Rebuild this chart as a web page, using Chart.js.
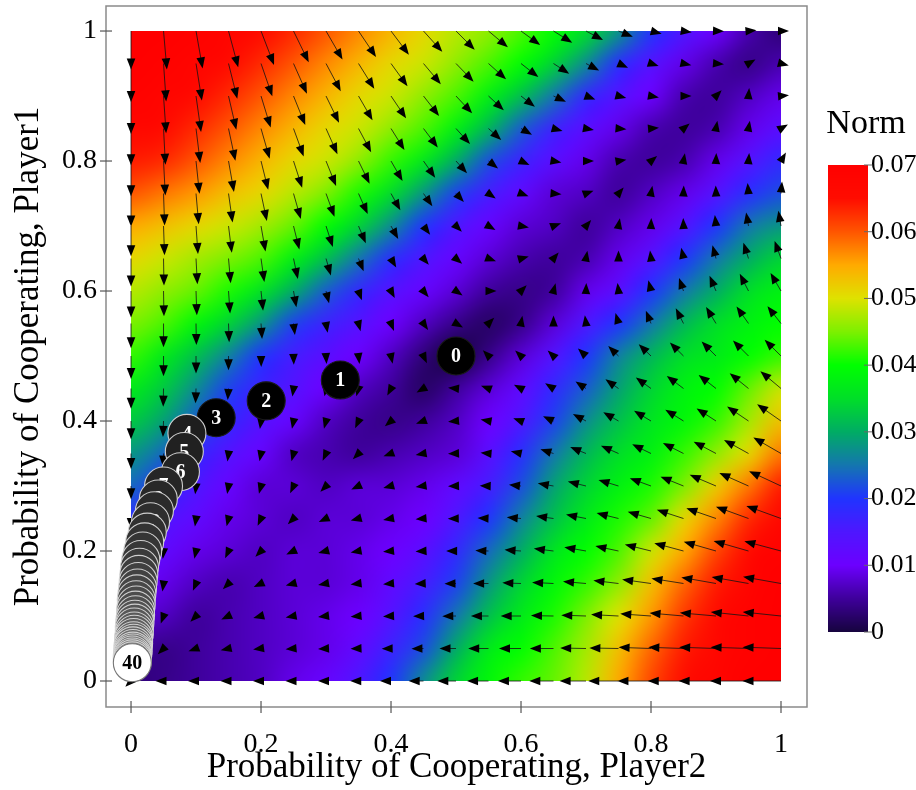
<!DOCTYPE html>
<html><head><meta charset="utf-8">
<script src="https://cdn.jsdelivr.net/npm/chart.js@4.4.1/dist/chart.umd.min.js"></script>
<style>html,body{margin:0;padding:0;background:#fff;overflow:hidden}canvas{display:block}</style>
</head><body>
<canvas id="c" width="916" height="790"></canvas>
<script>
// ---------- DATA ----------
const gridX = [0,0.05,0.1,0.15,0.2,0.25,0.3,0.35,0.4,0.45,0.5,0.55,0.6,0.65,0.7,0.75,0.8,0.85,0.9,0.95,1];
const gridY = [1,0.95,0.9,0.85,0.8,0.75,0.7,0.65,0.6,0.55,0.5,0.45,0.4,0.35,0.3,0.25,0.2,0.15,0.1,0.05,0]; // rows, top to bottom

// Norm of the field (x 1000), one row per gridY value, columns follow gridX
const normMilli = [
 [70,70,69,68,66,63,60,57,54,51,48,46,43,40,35,28,20,15,10,6,3],
 [70,69,68,66,63,60,57,54,51,49,46,43,40,34,27,19,14,9,6,4,6],
 [69,68,66,63,60,57,54,51,49,46,43,38,32,25,18,14,10,6,5,7,9],
 [67,66,63,60,57,54,51,49,46,43,38,31,23,17,13,9,6,5,6,9,13],
 [64,63,60,57,54,51,49,46,42,37,30,22,17,13,9,6,5,6,9,14,18],
 [60,58,56,53,51,48,45,41,35,28,21,16,12,8,7,5,7,9,14,19,22],
 [55,53,51,49,47,44,40,34,27,20,15,11,8,7,5,7,9,14,20,25,28],
 [51,49,47,45,43,38,32,25,19,15,11,8,6,5,6,9,14,20,25,30,34],
 [48,46,44,41,36,30,23,18,14,11,8,5,4,5,9,13,20,25,30,35,38],
 [45,43,39,34,28,21,17,14,10,7,4,2,4,8,15,20,25,31,35,38,40],
 [42,37,32,26,20,16,13,10,7,3,0,4,8,14,20,26,31,35,37,40,42],
 [37,33,27,21,17,14,10,7,5,2,5,8,12,18,23,29,34,38,40,44,49],
 [33,29,23,18,14,11,7,5,4,5,7,10,15,21,27,32,36,39,42,47,53],
 [28,24,18,14,11,7,6,5,6,7,8,13,19,25,31,35,38,42,46,51,58],
 [24,19,15,11,8,8,7,8,8,9,12,16,22,29,34,38,41,45,52,58,64],
 [19,15,12,9,8,7,8,8,9,10,15,20,26,32,37,41,44,51,57,63,67],
 [14,12,9,8,7,8,8,9,10,13,18,24,30,36,40,43,49,55,61,66,69],
 [11,9,7,6,7,8,8,9,12,16,21,28,34,39,42,46,53,59,64,68,70],
 [8,7,5,6,7,8,9,10,14,19,25,32,37,41,45,50,56,62,66,69,70],
 [5,4,5,6,7,8,9,12,17,22,30,37,40,43,47,53,59,64,67,69,70],
 [3,4,5,6,7,9,11,15,20,27,34,39,42,44,48,55,61,65,68,70,70]
];

// Arrow direction in degrees (0 = right, 90 = up), same layout as normMilli
const arrowAngleDeg = [
 [-90,-85,-80,-75,-69,-64,-60,-56,-53,-48,-45,-40,-36,-32,-28,-22,-15,-8,-2,5,0],
 [-90,-86,-81,-76,-71,-66,-62,-58,-54,-50,-46,-42,-38,-33,-28,-24,-18,-12,-5,30,-15],
 [-90,-86,-82,-77,-73,-68,-64,-60,-56,-52,-47,-43,-38,-25,-20,-15,-10,0,45,85,5],
 [-90,-87,-83,-78,-74,-70,-66,-62,-58,-53,-48,-42,-30,-15,-10,-5,5,40,80,80,30],
 [-90,-87,-84,-80,-76,-72,-68,-64,-60,-55,-48,-38,-25,-10,0,10,40,80,88,85,60],
 [-90,-88,-85,-82,-78,-74,-70,-66,-61,-55,-47,-35,-20,-5,20,50,80,88,92,95,85],
 [-90,-88,-86,-83,-80,-76,-72,-67,-61,-53,-45,-30,-10,20,50,80,88,92,96,100,100],
 [-90,-89,-87,-85,-82,-78,-74,-68,-60,-50,-40,-20,15,50,80,90,97,102,105,108,110],
 [-90,-89,-88,-86,-84,-80,-76,-70,-62,-50,-35,0,45,75,88,97,104,109,113,117,120],
 [-90,-90,-89,-88,-86,-83,-80,-75,-68,-55,-30,45,80,90,98,106,112,117,121,125,128],
 [-90,-90,-90,-90,-89,-88,-86,-83,-78,-65,0,135,137,137,137,136,136,135,135,135,135],
 [-90,-91,-92,-94,-96,-98,-101,-106,-118,-150,175,160,152,148,146,145,144,143,142,141,140],
 [-90,-92,-94,-96,-98,-101,-105,-115,-140,-160,-175,170,160,155,152,150,149,148,147,146,145],
 [-90,-92,-95,-98,-101,-105,-115,-135,-160,-170,-178,175,168,162,158,156,154,153,152,151,150],
 [-90,-93,-96,-100,-105,-115,-135,-155,-165,-172,-178,178,174,170,166,163,160,158,157,156,155],
 [-90,-94,-98,-104,-115,-135,-155,-165,-170,-175,-179,178,175,172,169,166,164,162,161,160,160],
 [-90,-95,-102,-115,-135,-155,-165,-170,-174,-177,180,178,176,173,170,168,166,165,164,164,165],
 [-90,-98,-113,-135,-155,-165,-170,-173,-175,-177,-179,180,178,177,175,173,172,171,170,170,170],
 [-90,-110,-135,-155,-165,-170,-173,-175,-177,-178,-179,180,180,179,178,177,176,175,175,174,174],
 [-90,-135,-160,-168,-172,-175,-177,-178,-179,-179,180,180,180,180,179,179,178,178,178,178,178],
 [-135,180,180,180,180,180,180,180,180,180,180,180,180,180,180,180,180,180,180,180,180]
];

// Trajectory (iterations 0..40)
const trajLabels = ['0','1','2','3','4','5','6','7','8','9','10','11','12','13','14','15','16','17','18','19','20','21','22','23','24','25','26','27','28','29','30','31','32','33','34','35','36','37','38','39','40'];
const trajX = [0.500,0.322,0.208,0.131,0.086,0.082,0.076,0.050,0.042,0.036,0.030,0.025,0.021,0.018,0.015,0.013,0.012,0.011,0.010,0.009,0.008,0.008,0.007,0.007,0.006,0.006,0.005,0.005,0.005,0.004,0.004,0.004,0.003,0.003,0.003,0.003,0.002,0.002,0.002,0.002,0.002];
const trajY = [0.500,0.463,0.431,0.405,0.381,0.353,0.322,0.300,0.280,0.262,0.245,0.229,0.214,0.200,0.187,0.175,0.164,0.153,0.143,0.134,0.125,0.117,0.109,0.102,0.095,0.089,0.083,0.077,0.072,0.067,0.062,0.058,0.054,0.050,0.046,0.043,0.040,0.037,0.034,0.031,0.028];

const axisTicks = [0,0.2,0.4,0.6,0.8,1];
const axisTickLabels = ['0','0.2','0.4','0.6','0.8','1'];
const normTicks = [0,0.01,0.02,0.03,0.04,0.05,0.06,0.07];
const normTickLabels = ['0','0.01','0.02','0.03','0.04','0.05','0.06','0.07'];
const NORM_MIN = 0, NORM_MAX = 0.07;

// ---------- STYLE ----------
const FONT = '"Liberation Serif","Times New Roman",Times,serif';
const colorStops = [
 [0.000,[22,4,62]],[0.005,[62,0,155]],[0.010,[108,0,255]],[0.015,[78,22,255]],
 [0.020,[32,52,255]],[0.025,[20,118,175]],[0.030,[0,172,100]],[0.035,[0,222,40]],
 [0.040,[0,255,0]],[0.045,[125,240,0]],[0.050,[222,226,0]],[0.055,[255,170,0]],
 [0.060,[255,85,0]],[0.065,[255,12,0]],[0.070,[255,0,0]]
];
function cmap(v){
  if (v <= colorStops[0][0]) return colorStops[0][1];
  for (let i=1;i<colorStops.length;i++){
    if (v <= colorStops[i][0]){
      const [v0,c0]=colorStops[i-1],[v1,c1]=colorStops[i];
      const t=(v-v0)/(v1-v0);
      return [0,1,2].map(k=>Math.round(c0[k]+(c1[k]-c0[k])*t));
    }
  }
  return colorStops[colorStops.length-1][1];
}
const ARROW_PX_PER_MILLI = 0.55, HEAD_LEN = 11, HEAD_HALF = 4.3, MIN_ARROW = 8;
const POINT_R = 19;
const CB = {gap:21, width:40, top:165, bottom:632};

// ---------- PLUGINS ----------
const heatPlugin = {
  id:'heat',
  beforeDatasetsDraw(chart){
    const xs=chart.scales.x, ys=chart.scales.y, c=chart.ctx;
    const nr=gridY.length, nc=gridX.length;
    const off=document.createElement('canvas'); off.width=nc; off.height=nr;
    const oc=off.getContext('2d'); const img=oc.createImageData(nc,nr);
    for(let r=0;r<nr;r++) for(let k=0;k<nc;k++){
      const col=cmap(normMilli[r][k]/1000); const p=(r*nc+k)*4;
      img.data[p]=col[0]; img.data[p+1]=col[1]; img.data[p+2]=col[2]; img.data[p+3]=255;
    }
    oc.putImageData(img,0,0);
    const hx=(gridX[1]-gridX[0])/2, hy=(gridY[0]-gridY[1])/2;
    const X0=xs.getPixelForValue(gridX[0]-hx), X1=xs.getPixelForValue(gridX[nc-1]+hx);
    const Y0=ys.getPixelForValue(gridY[0]+hy), Y1=ys.getPixelForValue(gridY[nr-1]-hy);
    const cx0=xs.getPixelForValue(gridX[0]), cx1=xs.getPixelForValue(gridX[nc-1]);
    const cy0=ys.getPixelForValue(gridY[0]), cy1=ys.getPixelForValue(gridY[nr-1]);
    c.save();
    c.beginPath(); c.rect(cx0,cy0,cx1-cx0,cy1-cy0); c.clip();
    c.imageSmoothingEnabled=true; c.imageSmoothingQuality='high';
    c.drawImage(off,X0,Y0,X1-X0,Y1-Y0);
    c.restore();

    // quiver arrows
    c.save();
    c.fillStyle='#000'; c.strokeStyle='rgba(20,20,20,0.9)'; c.lineWidth=0.9;
    for(let r=0;r<nr;r++) for(let k=0;k<nc;k++){
      const n=normMilli[r][k]; if(n<=0) continue;
      const a=arrowAngleDeg[r][k]*Math.PI/180;
      const dx=Math.cos(a), dy=-Math.sin(a);
      const px=xs.getPixelForValue(gridX[k]), py=ys.getPixelForValue(gridY[r]);
      const L=Math.max(n*ARROW_PX_PER_MILLI, MIN_ARROW);
      const tx=px+dx*L, ty=py+dy*L;
      if(L>HEAD_LEN){
        c.beginPath(); c.moveTo(px,py); c.lineTo(tx-dx*HEAD_LEN*0.6, ty-dy*HEAD_LEN*0.6); c.stroke();
      }
      const bx=tx-dx*HEAD_LEN, by=ty-dy*HEAD_LEN;
      c.beginPath(); c.moveTo(tx,ty);
      c.lineTo(bx-dy*HEAD_HALF, by+dx*HEAD_HALF);
      c.lineTo(bx+dy*HEAD_HALF, by-dx*HEAD_HALF);
      c.closePath(); c.fill();
    }
    c.restore();
  }
};

const trajPlugin = {
  id:'traj',
  afterDatasetsDraw(chart){
    const meta=chart.getDatasetMeta(0), c=chart.ctx;
    c.save();
    meta.data.forEach((el,i)=>{
      const {x,y}=el.getProps(['x','y'],true);
      let fill, stroke, txt;
      if(i===trajLabels.length-1){ fill='#ffffff'; stroke='#777'; txt='#000'; }
      else if(i<=3){ fill='#000000'; stroke='#1a1a1a'; txt='#fff'; }
      else { const g=Math.round(30+(i-4)*2.6); fill=`rgb(${g},${g},${g})`; stroke='rgba(215,215,215,0.95)'; txt='#fff'; }
      c.beginPath(); c.arc(x,y,POINT_R,0,Math.PI*2);
      c.fillStyle=fill; c.fill();
      c.lineWidth=1.1; c.strokeStyle=stroke; c.stroke();
      c.fillStyle=txt; c.font=`bold 20px ${FONT}`; c.textAlign='center'; c.textBaseline='middle';
      c.fillText(trajLabels[i],x,y+1);
    });
    c.restore();
  }
};

const framePlugin = {
  id:'frame',
  afterDraw(chart){
    const a=chart.chartArea, c=chart.ctx, xs=chart.scales.x, ys=chart.scales.y;
    c.save();
    c.strokeStyle='#8a8a8a'; c.lineWidth=1.5;
    c.strokeRect(a.left,a.top,a.right-a.left,a.bottom-a.top);
    c.lineWidth=1.2; c.strokeStyle='#555';
    axisTicks.forEach(v=>{
      const x=xs.getPixelForValue(v); c.beginPath(); c.moveTo(x,a.bottom-6); c.lineTo(x,a.bottom+6); c.stroke();
      const y=ys.getPixelForValue(v); c.beginPath(); c.moveTo(a.left-6,y); c.lineTo(a.left+6,y); c.stroke();
    });
    // colorbar
    const L=a.right+CB.gap, W=CB.width, T=CB.top, B=CB.bottom;
    for(let yy=T; yy<B; yy++){
      const v=NORM_MAX-(yy+0.5-T)/(B-T)*(NORM_MAX-NORM_MIN);
      const col=cmap(v); c.fillStyle=`rgb(${col[0]},${col[1]},${col[2]})`; c.fillRect(L,yy,W,1);
    }
    c.fillStyle='#000'; c.strokeStyle='#666'; c.lineWidth=1;
    c.font=`26px ${FONT}`; c.textAlign='left'; c.textBaseline='middle';
    normTicks.forEach((v,i)=>{
      const y=B-(v-NORM_MIN)/(NORM_MAX-NORM_MIN)*(B-T);
      c.beginPath(); c.moveTo(L+W-4,y); c.lineTo(L+W+4,y); c.stroke();
      c.fillText(normTickLabels[i], L+W+3, y);
    });
    c.font=`34px ${FONT}`; c.textAlign='center'; c.textBaseline='alphabetic';
    c.fillText('Norm', L+W-2, T-32);
    c.restore();
  }
};

new Chart(document.getElementById('c'), {
  type:'scatter',
  data:{datasets:[{data:trajX.map((x,i)=>({x,y:trajY[i]})), pointRadius:POINT_R, pointHoverRadius:POINT_R,
    backgroundColor:'rgba(0,0,0,0)', borderColor:'rgba(0,0,0,0)', borderWidth:0, clip:false}]},
  options:{
    responsive:false, animation:false, devicePixelRatio:1, events:[],
    layout:{autoPadding:false, padding:{left:0,top:6,right:109,bottom:0}},
    plugins:{legend:{display:false}, tooltip:{enabled:false}},
    scales:{
      x:{type:'linear', min:-0.0385, max:1.04,
        afterFit(s){ s.height=83; s.paddingLeft=0; s.paddingRight=0; },
        afterBuildTicks(s){ s.ticks=axisTicks.map(v=>({value:v})); },
        ticks:{callback:(v,i)=>axisTickLabels[i], font:{family:FONT,size:28}, color:'#000', padding:21, maxRotation:0, autoSkip:false},
        grid:{display:false, drawTicks:false}, border:{display:false},
        title:{display:true, text:'Probability of Cooperating, Player2', font:{family:FONT,size:35}, color:'#000', padding:{top:0,bottom:1}}
      },
      y:{type:'linear', min:-0.04, max:1.0385,
        afterFit(s){ s.width=106; s.paddingTop=0; s.paddingBottom=0; },
        afterBuildTicks(s){ s.ticks=axisTicks.map(v=>({value:v})); },
        ticks:{callback:(v,i)=>axisTickLabels[i], font:{family:FONT,size:28}, color:'#000', padding:9, autoSkip:false},
        grid:{display:false, drawTicks:false}, border:{display:false},
        title:{display:true, text:'Probability of Cooperating, Player1', font:{family:FONT,size:35}, color:'#000', padding:{top:8,bottom:0}}
      }
    }
  },
  plugins:[heatPlugin, trajPlugin, framePlugin]
});
</script>
</body></html>
